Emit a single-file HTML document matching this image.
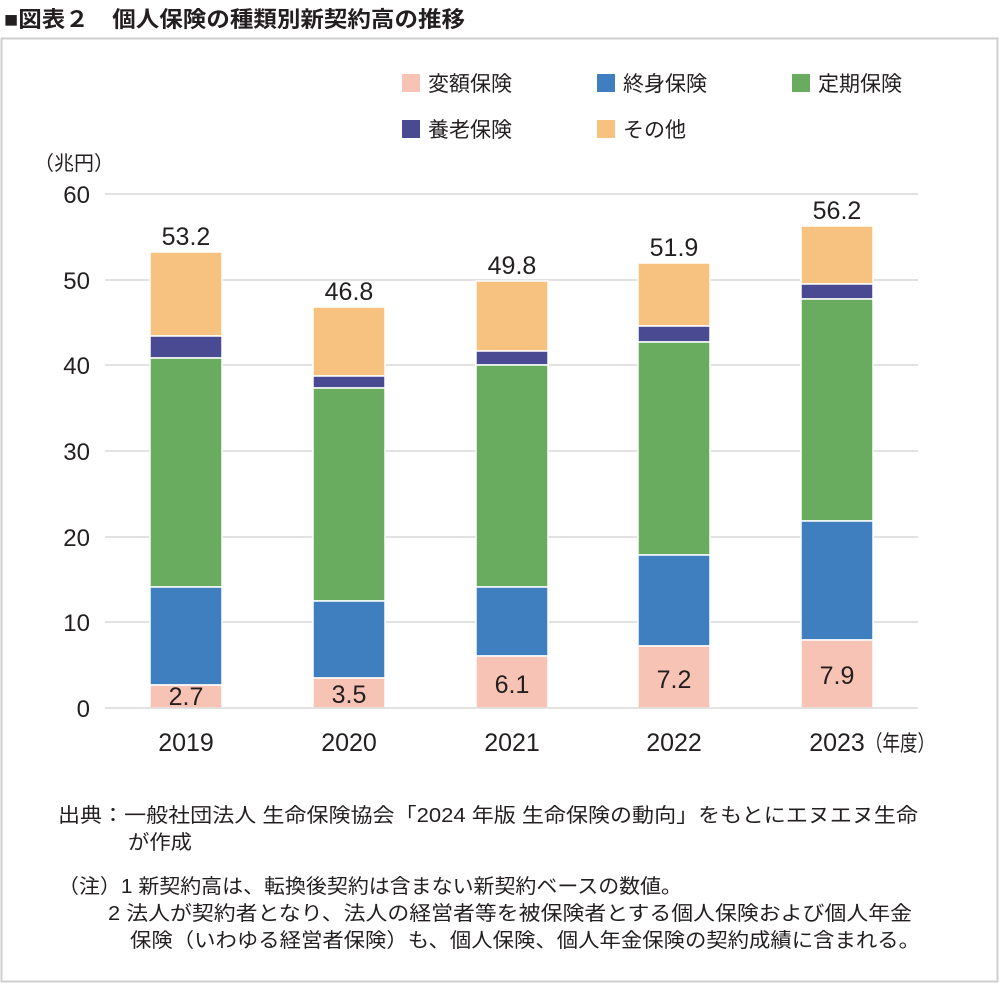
<!DOCTYPE html>
<html><head><meta charset="utf-8">
<style>
html,body{margin:0;padding:0;background:#fff;}
svg{display:block;}
text{font-family:"Liberation Sans","Noto Sans CJK JP",sans-serif;fill:#231f20;}
</style></head>
<body>
<svg width="1000" height="984" viewBox="0 0 1000 984" xmlns="http://www.w3.org/2000/svg">
<text x="4" y="27" font-size="22" font-weight="bold" textLength="461" lengthAdjust="spacingAndGlyphs">■図表２　個人保険の種類別新契約高の推移</text>
<rect x="1.5" y="38.5" width="996" height="943" fill="none" stroke="#cfcfcf" stroke-width="2"/>
<g font-size="21">
<rect x="402" y="74" width="18" height="18" fill="#f7c3b5"/><text x="428" y="91">変額保険</text>
<rect x="597" y="74" width="18" height="18" fill="#3f7fc0"/><text x="623" y="91">終身保険</text>
<rect x="792" y="74" width="18" height="18" fill="#69ab5f"/><text x="818" y="91">定期保険</text>
<rect x="402" y="120" width="18" height="18" fill="#4a4a92"/><text x="428" y="137">養老保険</text>
<rect x="597" y="120" width="18" height="18" fill="#f7c27f"/><text x="623" y="137">その他</text>
</g>
<text x="34" y="170" font-size="20">（兆円）</text>
<g stroke="#d9d9d9" stroke-width="1.5">
<line x1="105" y1="194" x2="918" y2="194"/>
<line x1="105" y1="280" x2="918" y2="280"/>
<line x1="105" y1="365" x2="918" y2="365"/>
<line x1="105" y1="451" x2="918" y2="451"/>
<line x1="105" y1="537" x2="918" y2="537"/>
<line x1="105" y1="622" x2="918" y2="622"/>
</g>
<g font-size="24" text-anchor="end">
<text x="90" y="203">60</text><text x="90" y="289">50</text><text x="90" y="374">40</text>
<text x="90" y="460">30</text><text x="90" y="546">20</text><text x="90" y="631">10</text><text x="90" y="717">0</text>
</g>
<g stroke="#fff" stroke-width="1.5">
<rect x="150" y="252" width="72" height="84" fill="#f7c27f"/>
<rect x="150" y="336" width="72" height="22" fill="#4a4a92"/>
<rect x="150" y="358" width="72" height="229" fill="#69ab5f"/>
<rect x="150" y="587" width="72" height="98" fill="#3f7fc0"/>
<rect x="150" y="685" width="72" height="23" fill="#f7c3b5"/>
<rect x="313" y="307" width="72" height="69" fill="#f7c27f"/>
<rect x="313" y="376" width="72" height="12" fill="#4a4a92"/>
<rect x="313" y="388" width="72" height="213" fill="#69ab5f"/>
<rect x="313" y="601" width="72" height="77" fill="#3f7fc0"/>
<rect x="313" y="678" width="72" height="30" fill="#f7c3b5"/>
<rect x="476" y="281" width="72" height="70" fill="#f7c27f"/>
<rect x="476" y="351" width="72" height="14" fill="#4a4a92"/>
<rect x="476" y="365" width="72" height="222" fill="#69ab5f"/>
<rect x="476" y="587" width="72" height="69" fill="#3f7fc0"/>
<rect x="476" y="656" width="72" height="52" fill="#f7c3b5"/>
<rect x="638" y="263" width="72" height="63" fill="#f7c27f"/>
<rect x="638" y="326" width="72" height="16" fill="#4a4a92"/>
<rect x="638" y="342" width="72" height="213" fill="#69ab5f"/>
<rect x="638" y="555" width="72" height="91" fill="#3f7fc0"/>
<rect x="638" y="646" width="72" height="62" fill="#f7c3b5"/>
<rect x="801" y="226" width="72" height="58" fill="#f7c27f"/>
<rect x="801" y="284" width="72" height="15" fill="#4a4a92"/>
<rect x="801" y="299" width="72" height="222" fill="#69ab5f"/>
<rect x="801" y="521" width="72" height="119" fill="#3f7fc0"/>
<rect x="801" y="640" width="72" height="68" fill="#f7c3b5"/>
</g>
<line x1="105" y1="708" x2="918" y2="708" stroke="#d9d9d9" stroke-width="1.5"/>
<g font-size="25" text-anchor="middle">
<text x="186" y="245">53.2</text><text x="349" y="300">46.8</text><text x="512" y="274">49.8</text>
<text x="674" y="256">51.9</text><text x="837" y="219">56.2</text>
<text x="186" y="705">2.7</text><text x="349" y="703">3.5</text><text x="512" y="693">6.1</text>
<text x="674" y="688">7.2</text><text x="837" y="684">7.9</text>
<text x="186" y="751">2019</text><text x="349" y="751">2020</text><text x="512" y="751">2021</text>
<text x="674" y="751">2022</text><text x="837" y="751">2023</text>
</g>
<text x="865" y="751" font-size="22" textLength="70" lengthAdjust="spacingAndGlyphs">（年度）</text>
<g font-size="20">
<text x="58" y="822" textLength="860" lengthAdjust="spacingAndGlyphs">出典：一般社団法人 生命保険協会「2024 年版 生命保険の動向」をもとにエヌエヌ生命</text>
<text x="128" y="849" textLength="64" lengthAdjust="spacingAndGlyphs">が作成</text>
<text x="58" y="893" textLength="624" lengthAdjust="spacingAndGlyphs">（注）1 新契約高は、転換後契約は含まない新契約ベースの数値。</text>
<text x="108" y="920" textLength="804" lengthAdjust="spacingAndGlyphs">2 法人が契約者となり、法人の経営者等を被保険者とする個人保険および個人年金</text>
<text x="130" y="947" textLength="790" lengthAdjust="spacingAndGlyphs">保険（いわゆる経営者保険）も、個人保険、個人年金保険の契約成績に含まれる。</text>
</g>
</svg>
</body></html>
